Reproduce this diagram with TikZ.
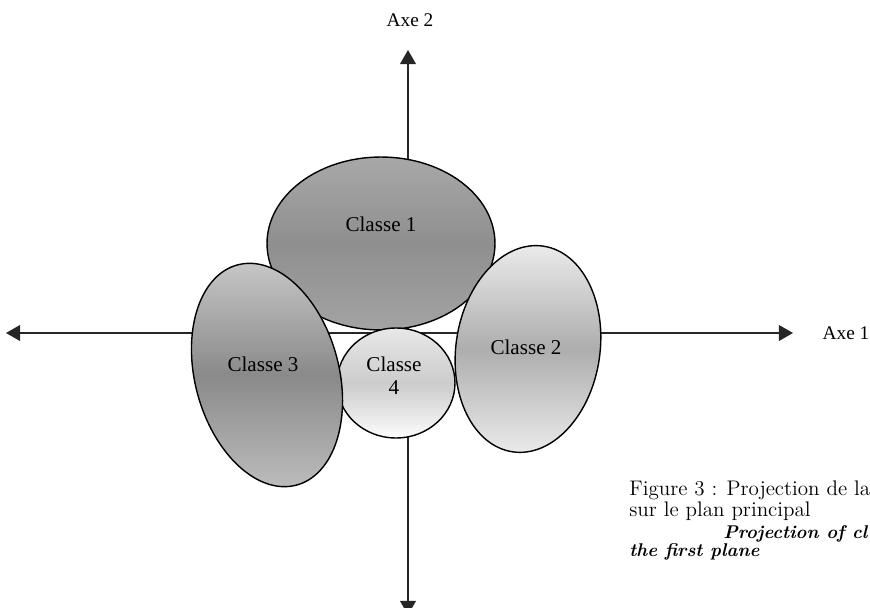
\documentclass[tikz,border=0pt]{standalone}
\usepackage{fontspec}
\newfontfamily\timesf{Liberation Serif}
\usetikzlibrary{arrows.meta}

\begin{document}
\begin{tikzpicture}[>={Triangle[length=8pt,width=9pt]}, x=0.02cm, y=-0.02cm]
 \tikzstyle{classe}=[draw=black, line width=0.8pt]
 \tikzstyle{lbl}=[font=\timesf\fontsize{12}{13}\selectfont, align=center]
 \tikzstyle{axe}=[draw=black!85, line width=0.6pt]
 \tikzstyle{captxt}=[anchor=base west, inner sep=0pt, font=\fontsize{12}{14}\selectfont]
 \tikzstyle{capbi}=[captxt, font=\fontsize{10.5}{13}\selectfont\bfseries\itshape]

 \useasboundingbox[fill=white] (0,0) rectangle (870,608);

 \coordinate (W) at (6,333);
 \coordinate (E) at (793,333);
 \coordinate (N) at (408,50);
 \coordinate (S) at (408,615);

 \draw [axe, <->] (W) -- (E);
 \draw [axe, <->] (N) -- (S);

 \node (axeA) at (846,333) [lbl, font=\timesf\fontsize{11}{13}\selectfont] {Axe 1};
 \node (axeB) at (410,20) [lbl, font=\timesf\fontsize{11}{13}\selectfont] {Axe 2};

 % ellipses, back to front
 \coordinate (C1) at (381,243.5);
 \coordinate (C4) at (396,383);
 \coordinate (C2) at (528,349);
 \coordinate (C3) at (267,375);
 \foreach \c/\rx/\ry/\ang/\ta/\tb/\tc in {C1/2.28/1.73/0/34/44/36, C4/1.18/1.1/0/9/20/1,
 		C2/1.44/2.08/-8.6/8/32/8, C3/1.44/2.28/15/22/46/26} {
  \begin{scope}
   \clip [rotate around={\ang:(\c)}] (\c) ellipse [x radius=\rx cm, y radius=\ry cm];
   \shade [top color=black!\ta, bottom color=black!\tc, middle color=black!\tb]
   	(\c) ++(-3cm,-\ry cm) rectangle ++(6cm,2*\ry cm);
  \end{scope}
  \draw [classe, rotate around={\ang:(\c)}] (\c) ellipse [x radius=\rx cm, y radius=\ry cm];
 }

 \node (L1) at (381,224) [lbl] {Classe 1};
 \node (L2) at (526,347) [lbl] {Classe 2};
 \node (L3) at (263,364) [lbl] {Classe 3};
 \node (L4) at (394,376) [lbl] {Classe\\4};

 % caption, cut by the right edge
 \node (cap1) at (629,495) [captxt] {Figure 3 : Projection de la};
 \node (cap2) at (629,516) [captxt] {sur le plan principal};
 \node (cap3) at (723,538) [capbi] {Projection of cl};
 \node (cap4) at (629,556) [capbi] {the first plane};

\end{tikzpicture}
\end{document}
